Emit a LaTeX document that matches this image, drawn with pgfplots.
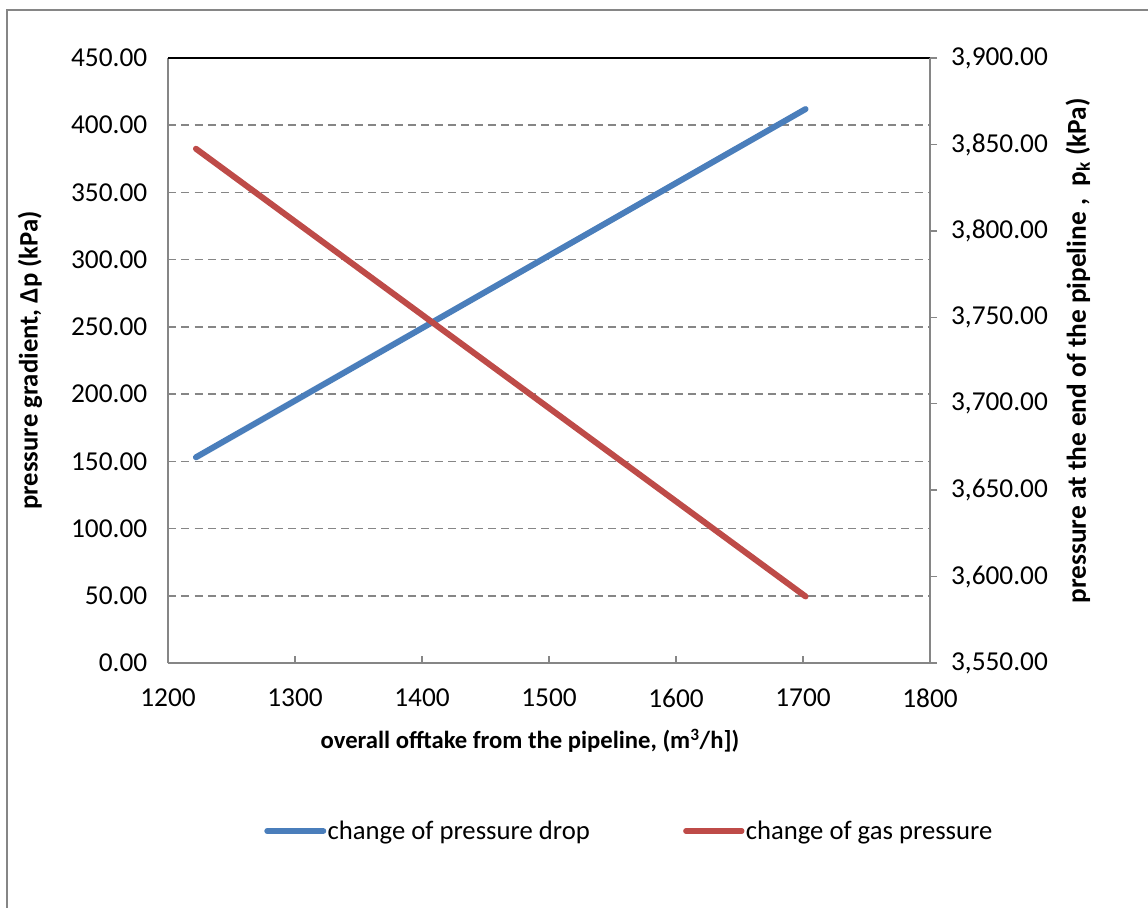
\documentclass[border=0pt]{standalone}
\usepackage{pgfplots}
\pgfplotsset{compat=1.18}
\usepackage{fontspec}
\setmainfont{Carlito}

\definecolor{xlblue}{RGB}{74,126,187}
\definecolor{xlred}{RGB}{190,75,72}
\definecolor{xlgrid}{RGB}{134,134,134}

\pgfplotstableread{
x      dp
1222   153
1702   412
}\droptable

\pgfplotstableread{
x      pk
1222   3847.5
1702   3588.5
}\presstable

\begin{document}
\begin{tikzpicture}
\useasboundingbox (0,0) rectangle (861pt,680.25pt);
% chart frame (only left and top edges are visible)
\draw[xlgrid, line width=1.5pt] (5.25pt,-5pt) -- (5.25pt,672.75pt) -- (870pt,672.75pt);

\pgfplotsset{
  every axis/.append style={
    scale only axis,
    width=571.5pt, height=453.75pt,
    at={(126pt,183pt)}, anchor=south west,
    xmin=1200, xmax=1800,
    font=\fontsize{20.5}{24}\selectfont,
    /pgf/number format/assume math mode=true,
    axis line style={xlgrid, line width=1.1pt},
  },
}

\begin{axis}[
  axis y line*=left, axis x line*=bottom,
  ymin=0, ymax=450,
  ytick={0,50,...,450},
  xtick={1200,1300,...,1800},
  ymajorgrids,
  grid style={xlgrid, line width=1.1pt, dash pattern=on 6pt off 4pt},
  ytick style={draw=none},
  x tick style={xlgrid, line width=1.1pt},
  tick align=inside,
  major tick length=5.25pt,
  yticklabel style={/pgf/number format/.cd, fixed, fixed zerofill, precision=2, /tikz/.cd, xshift=-12pt},
  xticklabel style={/pgf/number format/.cd, 1000 sep={}, /tikz/.cd, yshift=-16pt},
  xlabel={\fontsize{18.5}{22}\selectfont\bfseries overall offtake from the pipeline, (m\textsuperscript{3}/h])},
  xlabel style={at={(axis description cs:0.475,-0.129)}, anchor=center},
  ylabel={\fontsize{20}{24}\selectfont\bfseries pressure gradient, Δp (kPa)},
  ylabel style={at={(axis description cs:-0.181,0.5)}, anchor=center},
  legend columns=2,
  legend style={
    draw=none, fill=none, inner sep=0pt,
    at={(axis description cs:0.126,-0.2777)}, anchor=west,
    nodes={inner sep=1pt},
    font=\fontsize{20}{24}\selectfont,
    /tikz/every odd column/.append style={column sep=0pt},
    /tikz/every even column/.append style={column sep=69pt},
  },
  legend image code/.code={\draw[#1, line cap=round] (0pt,0pt) -- (42pt,0pt);},
]
\addplot[xlblue, line width=4.5pt, line cap=round] table[x=x, y=dp] {\droptable};
\addlegendentry{change of pressure drop}
\addlegendimage{xlred, line width=4pt}
\addlegendentry{change of gas pressure}
\draw[black, line width=1.1pt] (rel axis cs:0,1) -- (rel axis cs:1,1);
\end{axis}

\begin{axis}[
  axis y line*=right, axis x line=none,
  ymin=3550, ymax=3900,
  ytick={3550,3600,...,3900},
  y tick style={xlgrid, line width=1.1pt},
  tick align=outside,
  major tick length=5.25pt,
  yticklabel style={/pgf/number format/.cd, fixed, fixed zerofill, precision=2, 1000 sep={,}, /tikz/.cd, xshift=7pt},
  ylabel={\fontsize{20.5}{24}\selectfont\bfseries pressure at the end of the pipeline ,~ p\textsubscript{k} (kPa)},
  ylabel style={at={(axis description cs:1.194,0.516)}, anchor=center, rotate=0},
]
\addplot[xlred, line width=4.5pt, line cap=round] table[x=x, y=pk] {\presstable};
\end{axis}
\end{tikzpicture}
\end{document}
